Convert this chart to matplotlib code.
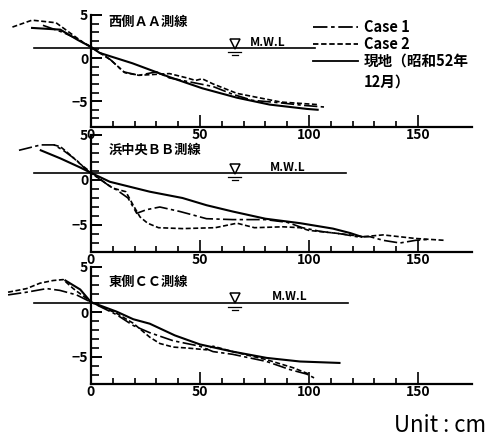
import numpy as np
import matplotlib
matplotlib.use('Agg')
import matplotlib.pyplot as plt
from matplotlib.lines import Line2D
from matplotlib.ticker import MultipleLocator, FixedLocator

plt.rcParams['font.family'] = ['Noto Sans CJK JP', 'DejaVu Sans']

# 西側AA測線
aa_case1_x = [-22, -13, -6, 0, 9, 15, 22, 30, 36, 46, 56, 65, 74, 87, 98, 108]
aa_case1_y = [3.8, 3.0, 2.2, 1.3, -0.2, -1.6, -2.0, -1.6, -2.3, -2.8, -3.3, -4.2, -4.9, -5.2, -5.5, -5.7]
aa_case2_x = [-36, -27, -16, -10, -3, 0, 9, 15.6, 22, 29, 36, 44, 48, 51, 56, 67, 87, 104]
aa_case2_y = [3.6, 4.4, 4.1, 3.0, 1.7, 1.3, -0.2, -1.7, -2.0, -1.9, -1.8, -2.3, -2.6, -2.4, -3.0, -4.1, -5.1, -5.4]
aa_site_x = [-27, -14, -6, 0, 4, 19, 36, 51, 67, 82, 99, 104]
aa_site_y = [3.5, 3.3, 2.1, 1.3, 0.6, -0.6, -2.2, -3.5, -4.6, -5.4, -5.9, -6.0]

# 浜中央BB測線
bb_case1_x = [-33, -23, -17, -12.7, -6.6, -2, 0, 8.7, 11.8, 17, 21, 25.5, 31.6, 40.8, 47, 53, 65,
              80, 90, 97, 105, 115, 122, 128, 134, 141.7, 149, 155]
bb_case1_y = [3.3, 3.9, 3.9, 3.3, 2.2, 1.1, 0.8, -0.7, -1.1, -2.0, -3.7, -3.3, -3.0, -3.5, -3.9, -4.3, -4.4,
              -4.4, -4.7, -5.3, -5.7, -6.0, -6.3, -6.3, -6.7, -7.0, -6.7, -6.6]
bb_case2_x = [-17, -14, -11, -5, -1.3, 0, 10, 16, 19.4, 22.5, 26, 31, 42, 57, 67, 75, 88, 96, 100,
              112, 125, 134, 149, 162]
bb_case2_y = [3.9, 3.7, 3.1, 1.8, 1.1, 0.8, -0.9, -1.3, -2.8, -4.1, -4.8, -5.3, -5.4, -5.3, -4.8, -5.3, -5.2, -5.3, -5.6,
              -5.9, -6.3, -6.1, -6.5, -6.7]
bb_site_x = [-23, -14, -5, 0, 8.7, 27, 42, 53, 65, 80, 96, 111, 119, 124]
bb_site_y = [3.3, 2.4, 1.4, 0.8, -0.2, -1.3, -2.0, -2.8, -3.5, -4.3, -4.8, -5.4, -5.9, -6.3]

# 東側CC測線
cc_case1_x = [-38, -29.5, -20.3, -14.2, -6.6, 0, 11.8, 19.4, 27, 37.8, 50, 56, 65, 80.6, 91.3, 99, 103]
cc_case1_y = [1.9, 2.2, 2.6, 2.4, 1.9, 1.1, -0.3, -1.5, -2.3, -3.2, -3.8, -4.4, -4.7, -5.5, -6.4, -6.9, -7.4]
cc_case2_x = [-38, -29.5, -23.4, -17.3, -12.7, -8.1, -2, 0, 11.8, 19.4, 27, 31.6, 37.8, 44, 53, 56, 65,
              80.6, 92.8, 100]
cc_case2_y = [2.2, 2.6, 3.2, 3.5, 3.6, 2.6, 1.5, 1.1, -0.15, -1.25, -2.8, -3.5, -3.9, -4.0, -4.2, -3.8, -4.4,
              -5.3, -6.2, -6.9]
cc_site_x = [-11.7, -4.9, 0, 11.8, 19.4, 27, 38.5, 50, 65, 80.6, 95.9, 114]
cc_site_y = [3.5, 2.5, 1.1, 0.04, -0.8, -1.3, -2.6, -3.6, -4.4, -5.1, -5.5, -5.66]

titles = ['西側ＡＡ測線', '浜中央ＢＢ測線', '東側ＣＣ測線']
title_y = [4.2, 3.4, 3.3]
mwl_level = [1.15, 0.75, 1.05]
mwl_end = [103, 117, 118]
mwl_label_x = [73, 82, 83]
legend_labels = ['Case 1', 'Case 2', '現地（昭和52年']

profiles = [
  (aa_case1_x, aa_case1_y, aa_case2_x, aa_case2_y, aa_site_x, aa_site_y),
  (bb_case1_x, bb_case1_y, bb_case2_x, bb_case2_y, bb_site_x, bb_site_y),
  (cc_case1_x, cc_case1_y, cc_case2_x, cc_case2_y, cc_site_x, cc_site_y),
]

ls_case1 = (0, (8, 2, 2, 2))
ls_case2 = (0, (3, 1.5))

fig = plt.figure(figsize=(4.91, 4.43), dpi=100)

# axes boxes (pixels from top)
boxes = [(15, 127), (135, 252), (267, 384)]

for i, (top, bot) in enumerate(boxes):
  ax = fig.add_axes([0, 1 - bot / 443, 1, (bot - top) / 443])
  ax.set_xlim(-41.7, 183.5)
  ax.set_ylim(-8, 5)

  c1x, c1y, c2x, c2y, sx, sy = profiles[i]
  ax.plot(c1x, c1y, color='black', lw=1.2, ls=ls_case1)
  ax.plot(c2x, c2y, color='black', lw=1.2, ls=ls_case2)
  ax.plot(sx, sy, color='black', lw=1.5)

  # mean water level
  m = mwl_level[i]
  ax.plot([-26, mwl_end[i]], [m, m], color='black', lw=1.2)
  ax.plot([66], [m + 0.5], marker='v', ms=7, mfc='white', mec='black', mew=1.1)
  ax.plot([63, 69], [m - 0.45, m - 0.45], color='black', lw=0.9)
  ax.plot([64.5, 67.5], [m - 0.8, m - 0.8], color='black', lw=0.9)
  ax.text(mwl_label_x[i], m - 0.05, 'M.W.L', fontsize=8.5, fontweight='bold', ha='left', va='bottom')

  ax.text(8, title_y[i], titles[i], fontsize=9.5, fontweight='bold', ha='left', va='center')

  for s in ['top', 'right']:
    ax.spines[s].set_visible(False)
  ax.spines['left'].set_position(('data', 0))
  ax.spines['left'].set_bounds(-8, 5)
  ax.spines['bottom'].set_bounds(0, 175)
  ax.spines['left'].set_linewidth(1.6)
  ax.spines['bottom'].set_linewidth(1.6)

  ax.yaxis.set_major_locator(FixedLocator([-5, 0, 5]))
  ax.yaxis.set_minor_locator(MultipleLocator(1))
  ax.xaxis.set_major_locator(FixedLocator([0, 50, 100, 150]))
  ax.xaxis.set_minor_locator(FixedLocator(np.arange(10, 151, 10)))
  ax.tick_params(axis='y', which='major', direction='in', length=8, width=1.4, pad=2, labelsize=10)
  ax.tick_params(axis='y', which='minor', direction='in', length=6, width=1.2)
  ax.tick_params(axis='x', which='major', direction='in', length=9, width=1.2, pad=1, labelsize=10)
  ax.tick_params(axis='x', which='minor', direction='in', length=4, width=1.2)
  for lab in ax.get_xticklabels() + ax.get_yticklabels():
    lab.set_fontweight('bold')
  ax.patch.set_visible(False)

# legend drawn by hand to keep the two-line label
leg_y = [1 - 27 / 443, 1 - 44 / 443, 1 - 61 / 443]
leg_ls = [ls_case1, ls_case2, '-']
for y, ls, lab in zip(leg_y, leg_ls, legend_labels):
  fig.add_artist(Line2D([313 / 491, 358 / 491], [y, y], color='black', lw=1.3, ls=ls))
  fig.text(364 / 491, y, lab, fontsize=10.5, fontweight='bold', ha='left', va='center')
fig.text(364 / 491, 1 - 82 / 443, '12月）', fontsize=10.5, fontweight='bold', ha='left', va='center')

fig.text(486 / 491, 1 - 425 / 443, 'Unit : cm', fontsize=16, ha='right', va='center')

fig.savefig('out.png', dpi=100)
